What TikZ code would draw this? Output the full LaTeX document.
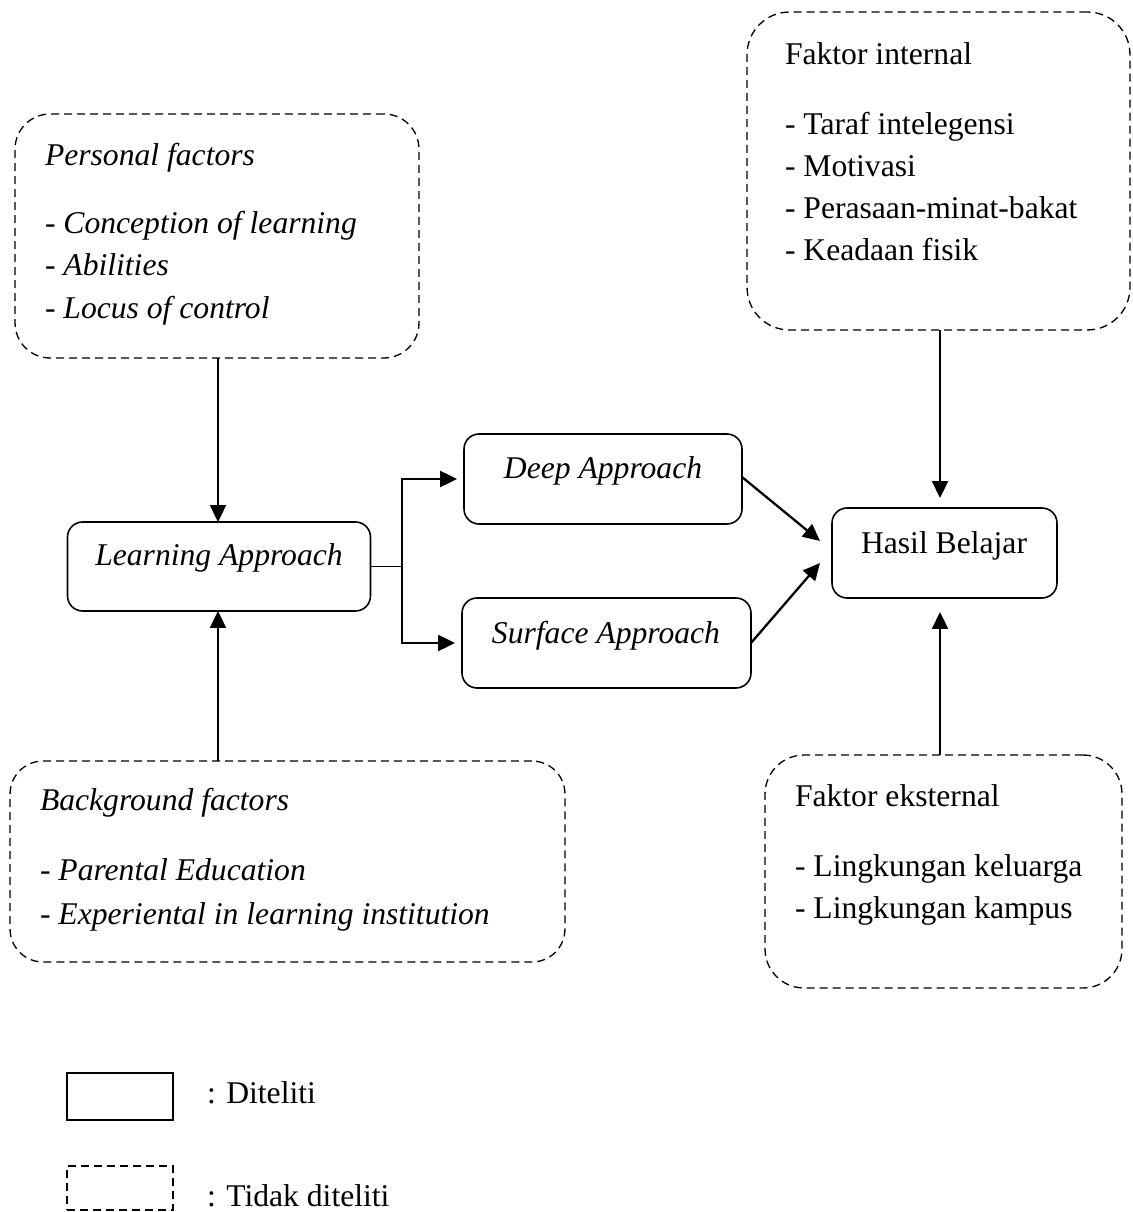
\documentclass[tikz,border=0pt]{standalone}
\usepackage{fontspec}
\setmainfont{Liberation Serif}
\usetikzlibrary{arrows.meta}
\begin{document}
\begin{tikzpicture}[x=0.02cm,y=-0.02cm,
  every node/.style={inner sep=0pt,outer sep=0pt},
  txt/.style={font=\fontsize{18}{22}\selectfont},
  itxt/.style={font=\fontsize{18}{22}\selectfont\itshape},
  solidbox/.style={draw,line width=0.9pt,rounded corners=0.3cm},
  dashbox/.style={draw,line width=0.75pt,dash pattern=on 0.16cm off 0.1cm},
  arr/.style={line width=1.3pt,-{Triangle[length=0.34cm,width=0.32cm]}},
  thinline/.style={line width=0.6pt}]
\useasboundingbox (0,0) rectangle (1132,1212);

% boxes
\node[dashbox,rounded corners=0.7cm,minimum width=8.08cm,minimum height=4.88cm] (personal) at (217,236) {};
\node[dashbox,rounded corners=0.85cm,minimum width=7.66cm,minimum height=6.36cm] (internal) at (938.5,171) {};
\node[solidbox,minimum width=6.06cm,minimum height=1.78cm] (learning) at (219,566.5) {};
\node[solidbox,minimum width=5.56cm,minimum height=1.8cm] (deep) at (603,479) {};
\node[solidbox,minimum width=5.78cm,minimum height=1.8cm] (surface) at (606.5,643) {};
\node[solidbox,minimum width=4.5cm,minimum height=1.8cm] (hasil) at (944.5,553) {};
\node[dashbox,rounded corners=0.66cm,minimum width=11.1cm,minimum height=4.02cm] (background) at (287.5,861.5) {};
\node[dashbox,rounded corners=0.78cm,minimum width=7.14cm,minimum height=4.66cm] (external) at (943.5,871.5) {};
\node[draw,line width=0.9pt,minimum width=2.12cm,minimum height=0.94cm] (legsolid) at (120,1096.5) {};
\node[dashbox,minimum width=2.12cm,minimum height=0.88cm] (legdash) at (120,1188) {};

% texts
\node[itxt,anchor=base west] (p1) at (45,166) {Personal factors};
\node[itxt,anchor=base west] (p2) at (45,234) {- Conception of learning};
\node[itxt,anchor=base west] (p3) at (45,276) {- Abilities};
\node[itxt,anchor=base west] (p4) at (45,319) {- Locus of control};

\node[txt,anchor=base west] (i1) at (785,65) {Faktor internal};
\node[txt,anchor=base west] (i2) at (785,135) {- Taraf intelegensi};
\node[txt,anchor=base west] (i3) at (785,177) {- Motivasi};
\node[txt,anchor=base west] (i4) at (785,219) {- Perasaan-minat-bakat};
\node[txt,anchor=base west] (i5) at (785,261) {- Keadaan fisik};

\node[itxt,anchor=base] (lt) at (219,565) {Learning Approach};
\node[itxt,anchor=base] (dt) at (603,479) {Deep Approach};
\node[itxt,anchor=base] (st) at (606,643) {Surface Approach};
\node[txt,anchor=base] (ht) at (944,553) {Hasil Belajar};

\node[itxt,anchor=base west] (b1) at (40,810) {Background factors};
\node[itxt,anchor=base west] (b2) at (40,880) {- Parental Education};
\node[itxt,anchor=base west] (b3) at (40,924) {- Experiental in learning institution};

\node[txt,anchor=base west] (e1) at (795,806) {Faktor eksternal};
\node[txt,anchor=base west] (e2) at (795,876) {- Lingkungan keluarga};
\node[txt,anchor=base west] (e3) at (795,918) {- Lingkungan kampus};

\node[txt,anchor=base west] (l1) at (207,1103) {: Diteliti};
\node[txt,anchor=base west] (l2) at (207,1206) {: Tidak diteliti};

% connectors
\draw[arr] ([xshift=0.02cm]personal.south) -- ([xshift=0.02cm]personal.south |- learning.north);
\draw[arr] ([xshift=-0.02cm]learning.south |- background.north) -- ([xshift=-0.02cm]learning.south);

\coordinate (br) at (402,566.5);
\draw[thinline] (learning.east) -- (br);
\draw[line width=1.3pt] ([yshift=0.013cm]br |- deep.west) -- ([yshift=-0.013cm]br |- surface.west);
\draw[arr,shorten >=0.14cm] (br |- deep.west) -- (deep.west);
\draw[arr,shorten >=0.14cm] (br |- surface.west) -- (surface.west);

\coordinate (h1) at (820,541);
\coordinate (h2) at (820,563);
\draw[arr] ([yshift=0.04cm]deep.east) -- (h1);
\draw[arr] (surface.east) -- (h2);

\draw[arr,shorten >=0.2cm] ([xshift=0.03cm]internal.south) -- ([xshift=0.03cm]internal.south |- hasil.north);
\draw[arr,shorten >=0.28cm] ([xshift=-0.07cm]external.north) -- ([xshift=-0.07cm]external.north |- hasil.south);
\end{tikzpicture}
\end{document}
